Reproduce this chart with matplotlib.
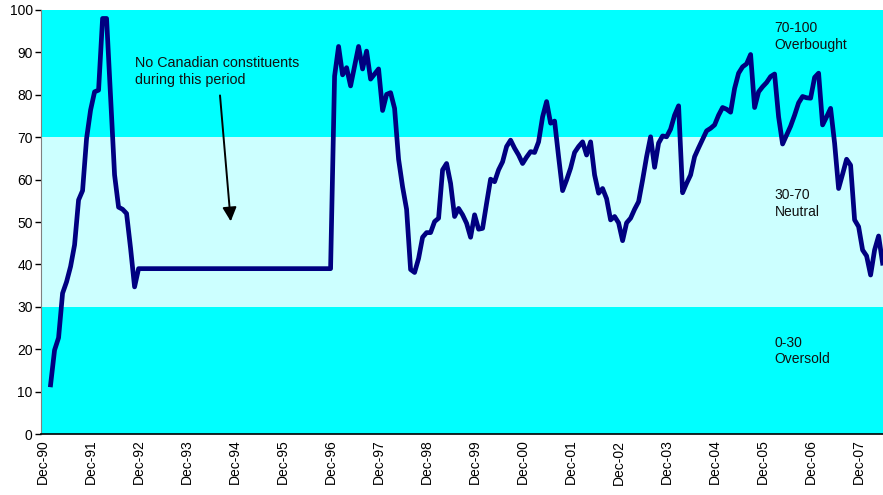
import matplotlib
matplotlib.use("Agg")
import matplotlib.pyplot as plt

plt.rcParams['font.family'] = ['Liberation Sans', 'DejaVu Sans']

# months counted from Dec-90 (0)
months = [2, 3, 4, 5, 6, 7, 8, 9, 10, 11, 12, 13, 14, 15, 16, 18, 19, 20, 21, 22,
          23, 24, 72, 73, 74, 75, 76, 77, 79, 80, 81, 82, 84, 85, 86, 87, 88, 89,
          90, 91, 92, 93, 94, 95, 96, 97, 98, 99, 100, 101, 102, 103, 104, 105,
          106, 107, 108, 109, 110, 111, 112, 113, 114, 115, 116, 117, 118, 119,
          120, 121, 122, 123, 124, 125, 126, 127, 128, 129, 130, 131, 132, 133,
          134, 135, 136, 137, 138, 139, 140, 141, 142, 143, 144, 145, 146, 147,
          148, 149, 150, 151, 152, 153, 154, 155, 156, 157, 158, 159, 160, 161,
          162, 163, 164, 165, 166, 167, 168, 169, 170, 171, 172, 173, 174, 175,
          176, 177, 178, 179, 180, 181, 182, 183, 184, 185, 186, 187, 188, 189,
          190, 191, 192, 193, 194, 195, 196, 197, 198, 199, 200, 201, 202, 203,
          204, 205, 206, 207, 208, 209, 210]
rsi = [11.6, 19.8, 22.7, 33.2, 35.9, 39.5, 44.6, 55.2, 57.4, 69.7, 76.4, 80.7, 81.1, 98, 98, 61.1, 53.5, 53, 52, 43.8,
       34.7, 39, 39, 84.4, 91.4, 84.7, 86.4, 82.1, 91.4, 86.1, 90.3, 83.7, 86.1, 76.3, 80.1, 80.5, 76.8, 64.8,
       58.3, 53, 38.8, 38.1, 41.4, 46.4, 47.5, 47.5, 50.1, 50.9, 62.3, 63.8, 59.1, 51.3, 53.2, 51.7,
       49.7, 46.4, 51.7, 48.3, 48.5, 54.4, 60.1, 59.5, 62.3, 64.2, 67.8, 69.3, 67.4, 65.8,
       63.8, 65.3, 66.6, 66.4, 68.9, 74.8, 78.4, 73.3, 73.8, 65.4, 57.4, 59.9, 62.7, 66.4,
       67.8, 68.9, 65.8, 68.9, 61.1, 56.8, 57.9, 55.5, 50.5, 51.3, 49.8, 45.6, 49.8, 50.9,
       53, 54.8, 59.9, 65.4, 70.1, 62.9, 68.6, 70.3, 70.1, 71.9, 75.2, 77.4, 56.9, 59.1,
       61.1, 65.4, 67.5, 69.5, 71.5, 72.1, 72.9, 75.2, 77, 76.6, 75.9, 81.5, 85.1, 86.6,
       87.3, 89.5, 77, 80.7, 81.9, 82.9, 84.3, 84.9, 74.8, 68.4, 70.5, 72.6, 75.2, 78.1,
       79.6, 79.3, 79.2, 84.1, 85.1, 72.9, 74.8, 76.8, 68.6, 57.9, 61.3, 64.8, 63.4, 50.5,
       48.9, 43.4, 42, 37.5, 43.4, 46.7, 40.3]

tick_months = list(range(0, 205, 12))
tick_labels = ['Dec-90', 'Dec-91', 'Dec-92', 'Dec-93', 'Dec-94', 'Dec-95', 'Dec-96',
               'Dec-97', 'Dec-98', 'Dec-99', 'Dec-00', 'Dec-01', 'Dec-02', 'Dec-03',
               'Dec-04', 'Dec-05', 'Dec-06', 'Dec-07']

bands = [(0, 30, '#00FFFF'), (30, 70, '#CCFFFF'), (70, 100, '#00FFFF')]
band_labels = [(19.6, '0-30\nOversold'), (54.3, '30-70\nNeutral'), (93.7, '70-100\nOverbought')]

fig = plt.figure(figsize=(8.83, 4.95), dpi=100)
ax = fig.add_axes([0.0464, 0.1232, 0.9536, 0.8566])

for lo, hi, col in bands:
    ax.axhspan(lo, hi, color=col, zorder=0, lw=0)

ax.plot(months, rsi, color='#000080', lw=3.4, solid_joinstyle='round', zorder=3)

for y, txt in band_labels:
    ax.text(183, y, txt, fontsize=10, va='center', ha='left', color='#111111', linespacing=1.25)

ax.text(23.1, 85.5, 'No Canadian constituents\nduring this period', fontsize=10.3,
        va='center', ha='left', color='#111111', linespacing=1.25)
ax.annotate('', xy=(47.1, 49.5), xytext=(44.3, 80.5),
            arrowprops=dict(arrowstyle='-|>', color='black', lw=1.4, mutation_scale=21))

ax.set_xlim(-0.4, 210.1)
ax.set_ylim(0, 100)
ax.set_yticks(range(0, 101, 10))
ax.set_xticks(tick_months)
ax.set_xticklabels(tick_labels, rotation=90, fontsize=10)
ax.tick_params(axis='y', labelsize=10, length=4, width=1, pad=2)
ax.tick_params(axis='x', length=0, pad=4)

for s in ['top', 'right']:
    ax.spines[s].set_visible(False)
ax.spines['left'].set_color('#808080')
ax.spines['bottom'].set_color('black')
ax.spines['bottom'].set_linewidth(1.2)

fig.savefig('out.png', dpi=100)
